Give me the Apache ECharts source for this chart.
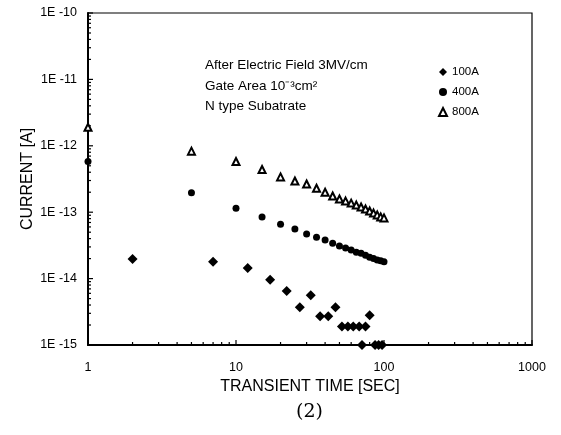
<!DOCTYPE html>
<html>
<head>
<meta charset="utf-8">
<script src="https://cdn.jsdelivr.net/npm/echarts@6/dist/echarts.min.js"></script>
<style>
  html, body { margin: 0; padding: 0; background: #fff; }
  #main { width: 561px; height: 435px; }
</style>
</head>
<body>
<div id="main"></div>
<script>
// transient time [s] and current [A]
var times800 = [1, 5, 10, 15, 20, 25, 30, 35, 40, 45, 50, 55, 60, 65, 70, 75, 80, 85, 90, 95, 100];
var current800 = [1.9e-12, 8.3e-13, 5.8e-13, 4.4e-13, 3.4e-13, 2.95e-13, 2.66e-13, 2.3e-13, 2.0e-13, 1.75e-13,
    1.58e-13, 1.47e-13, 1.37e-13, 1.28e-13, 1.2e-13, 1.12e-13, 1.04e-13, 9.7e-14, 9.1e-14, 8.5e-14, 8.2e-14];

var times400 = [1, 5, 10, 15, 20, 25, 30, 35, 40, 45, 50, 55, 60, 65, 70, 75, 80, 85, 90, 95, 100];
var current400 = [5.8e-13, 1.96e-13, 1.15e-13, 8.5e-14, 6.6e-14, 5.6e-14, 4.7e-14, 4.2e-14, 3.8e-14, 3.4e-14,
    3.1e-14, 2.9e-14, 2.7e-14, 2.5e-14, 2.4e-14, 2.25e-14, 2.1e-14, 2.0e-14, 1.9e-14, 1.85e-14, 1.8e-14];

var times100 = [2, 7, 12, 17, 22, 27, 32, 37, 42, 47, 52, 57, 62, 68, 75, 80, 71, 87, 92, 97];
var current100 = [1.97e-14, 1.8e-14, 1.44e-14, 9.6e-15, 6.5e-15, 3.7e-15, 5.6e-15, 2.7e-15, 2.7e-15, 3.7e-15,
    1.9e-15, 1.9e-15, 1.9e-15, 1.9e-15, 1.9e-15, 2.8e-15, 1e-15, 1e-15, 1e-15, 1e-15];

var xTickValues = [1, 10, 100, 1000];
var yTickValues = [1e-15, 1e-14, 1e-13, 1e-12, 1e-11, 1e-10];

function pairs(xs, ys) {
    return xs.map(function (x, i) { return [x, ys[i]]; });
}

// minor ticks 2..9 inside every decade
function minorTicks(decades) {
    var out = [];
    for (var i = 0; i < decades.length - 1; i++) {
        for (var k = 1; k <= 9; k++) out.push(decades[i] * k);
    }
    out.push(decades[decades.length - 1]);
    return out;
}

var chart = echarts.init(document.getElementById('main'));
var font = '"Liberation Sans", Arial, sans-serif';

var option = {
    animation: false,
    backgroundColor: '#fff',
    textStyle: { fontFamily: font, color: '#000' },
    grid: {
        left: 88, right: 29, top: 13, bottom: 90,
        show: true, borderColor: '#000', borderWidth: 1.2
    },
    legend: {
        data: ['100A', '400A', '800A'],
        orient: 'vertical',
        left: 438, top: 66,
        itemWidth: 8, itemHeight: 8, itemGap: 8,
        padding: 0,
        textStyle: { fontSize: 11.5, fontFamily: font, color: '#000' }
    },
    xAxis: {
        type: 'log', logBase: 10, min: 1, max: 1000,
        name: 'TRANSIENT TIME [SEC]',
        nameLocation: 'middle', nameGap: 34,
        nameTextStyle: { fontSize: 16, fontFamily: font, color: '#000' },
        axisLine: { lineStyle: { color: '#000', width: 2 } },
        axisTick: { show: false },
        splitLine: { show: false },
        axisLabel: { fontSize: 12.5, color: '#000', margin: 16, formatter: function (v) { return String(Math.round(v)); } }
    },
    yAxis: {
        type: 'log', logBase: 10, min: 1e-15, max: 1e-10,
        name: 'CURRENT [A]',
        nameLocation: 'middle', nameGap: 52, nameRotate: 90,
        nameMoveOverlap: false,
        nameTextStyle: { fontSize: 16, fontFamily: font, color: '#000' },
        axisLine: { lineStyle: { color: '#000', width: 2 } },
        axisTick: { show: false },
        splitLine: { show: false },
        axisLabel: {
            fontSize: 12.5, color: '#000', margin: 11,
            formatter: function (v) { return '1E -' + Math.round(-Math.log10(v)); }
        }
    },
    graphic: [
        { type: 'text', left: 205, top: 58, style: { text: 'After Electric Field 3MV/cm', font: '13.5px ' + font, fill: '#000' } },
        { type: 'text', left: 205, top: 79, style: { text: 'Gate Area 10\u207B\u00B3cm\u00B2', font: '13.5px ' + font, fill: '#000' } },
        { type: 'text', left: 205, top: 99, style: { text: 'N type Subatrate', font: '13.5px ' + font, fill: '#000' } },
        { type: 'text', left: 296, top: 403, style: { text: '(2)', font: '19px "DejaVu Serif", serif', fill: '#000' } }
    ],
    series: [
        {
            name: '100A', type: 'scatter', symbol: 'diamond', symbolSize: 10,
            itemStyle: { color: '#000', opacity: 1 },
            data: pairs(times100, current100)
        },
        {
            name: '400A', type: 'scatter', symbol: 'circle', symbolSize: 7,
            itemStyle: { color: '#000', opacity: 1 },
            data: pairs(times400, current400)
        },
        {
            name: '800A', type: 'scatter', symbol: 'triangle', symbolSize: 7,
            itemStyle: { color: '#fff', borderColor: '#000', borderWidth: 2, opacity: 1 },
            data: pairs(times800, current800)
        },
        {
            // tick marks on the x axis, pointing up into the plot
            type: 'custom', silent: true, z: 5,
            data: minorTicks(xTickValues).map(function (v) { return [v, 1e-15]; }),
            renderItem: function (params, api) {
                var p = api.coord([api.value(0), api.value(1)]);
                var v = api.value(0);
                var major = Math.abs(Math.log10(v) - Math.round(Math.log10(v))) < 1e-6;
                return { type: 'line', shape: { x1: p[0], y1: p[1], x2: p[0], y2: p[1] - (major ? 5 : 3) },
                    style: { stroke: '#000', lineWidth: 1.2 } };
            }
        },
        {
            // tick marks on the y axis, pointing right into the plot
            type: 'custom', silent: true, z: 5,
            data: minorTicks(yTickValues).map(function (v) { return [1, v]; }),
            renderItem: function (params, api) {
                var p = api.coord([api.value(0), api.value(1)]);
                var v = api.value(1);
                var major = Math.abs(Math.log10(v) - Math.round(Math.log10(v))) < 1e-6;
                return { type: 'line', shape: { x1: p[0], y1: p[1], x2: p[0] + (major ? 5 : 3), y2: p[1] },
                    style: { stroke: '#000', lineWidth: 1.2 } };
            }
        }
    ]
};

chart.setOption(option);
</script>
</body>
</html>
